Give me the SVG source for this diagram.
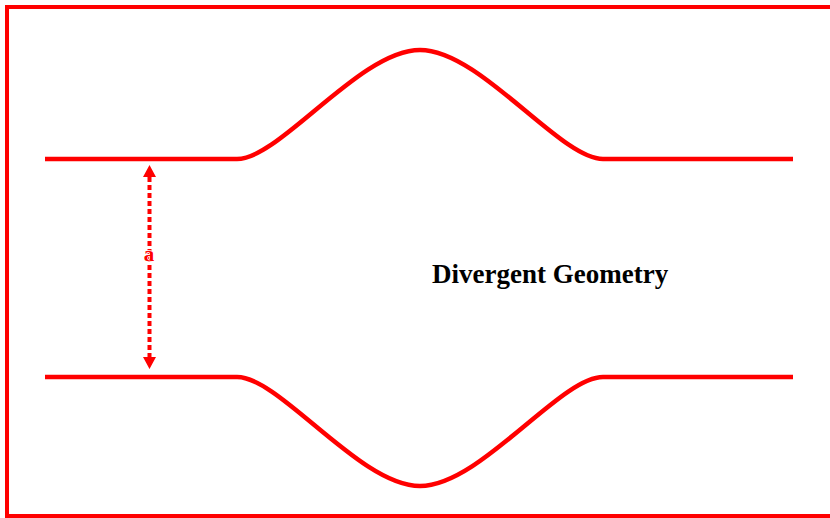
<svg xmlns="http://www.w3.org/2000/svg" width="830" height="518" viewBox="0 0 830 518">
  <defs>
    <style>
      .wall { fill: none; stroke: #ff0000; stroke-width: 4.5; stroke-linecap: butt; }
      .dim { fill: none; stroke: #ff0000; stroke-width: 4; stroke-dasharray: 5 3; }
      .title { font-family: "Liberation Serif", "Times New Roman", serif; font-weight: bold; font-size: 27px; fill: #000000; }
      .lbl { font-family: "Liberation Serif", "Times New Roman", serif; font-weight: bold; font-size: 21px; fill: #ff0000; stroke: #ffffff; stroke-width: 1.5; paint-order: stroke; }
    </style>
  </defs>
  <rect x="0" y="0" width="830" height="518" fill="#ffffff"/>
  <rect id="frame" x="7" y="7" width="830" height="509" fill="none" stroke="#ff0000" stroke-width="4"/>
  <g id="upper-wall">
    <path class="wall" d="M45,159 L237,159 C280,159 360,50 420,50 C480,50 560,159 603,159 L793,159"/>
  </g>
  <g id="lower-wall">
    <path class="wall" d="M45,377 L237,377 C280,377 360,486 420,486 C480,486 560,377 603,377 L793,377"/>
  </g>
  <g id="connectors">
    <line class="dim" x1="149.5" y1="177" x2="149.5" y2="357"/>
    <path d="M143,177 L149.5,165 L156,177 Z M143,357 L149.5,369 L156,357 Z" fill="#ff0000"/>
  </g>
  <g id="label-a">
    <text class="lbl" x="149" y="261" text-anchor="middle">a</text>
  </g>
  <g id="title">
    <text class="title" x="432" y="283">Divergent Geometry</text>
  </g>
</svg>
